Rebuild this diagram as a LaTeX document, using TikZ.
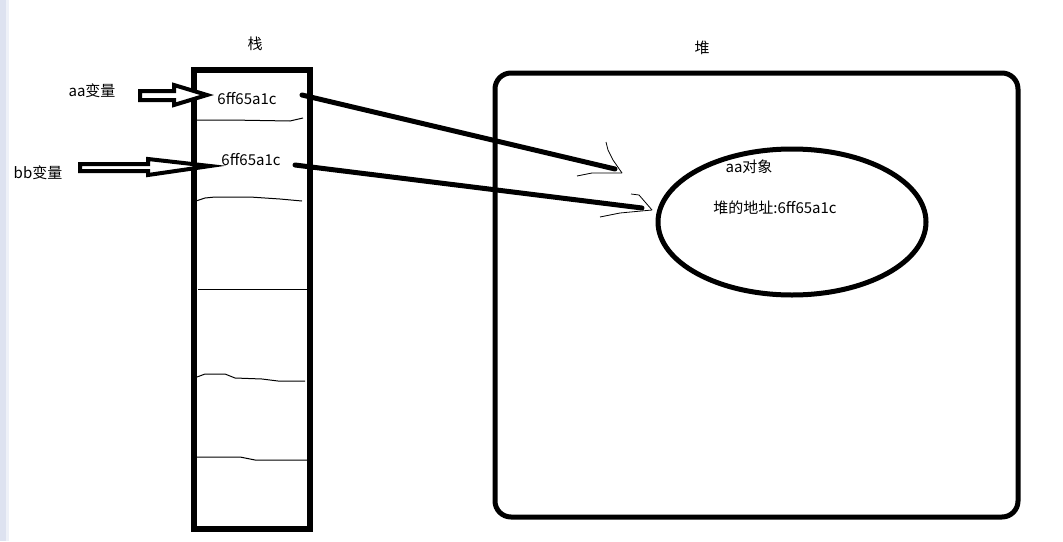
\documentclass[tikz,border=0pt]{standalone}
\usepackage{fontspec}
\usetikzlibrary{shapes.geometric}
\setmainfont{Noto Sans CJK SC}
\begin{document}
\begin{tikzpicture}[x=1pt,y=-1pt,
  lbl/.style={inner sep=0pt, font=\fontsize{15}{17}\selectfont},
  thickbox/.style={line width=5.5pt},
  ptr/.style={line width=5pt, line cap=round},
  sketch/.style={line width=0.8pt, line join=round},
  sep/.style={line width=1pt},
  blockarrow/.style={line width=4pt, fill=white, line join=miter}]
\useasboundingbox (0,0) rectangle (1063,541);
\fill[fill={rgb,255:red,221;green,226;blue,240}] (0,0) rectangle (6,541);
\fill[fill={rgb,255:red,238;green,241;blue,248}] (6,0) rectangle (9,541);

% stack
\draw[thickbox] (194,70) rectangle (310,529);
\node[lbl] (stacklbl) at (255,44) {栈};
\draw[sep] (196,120) -- (230,120) -- (290,121) -- (303,118);
\draw[sep] (196,201) -- (205,198) -- (215,197) -- (250,197) -- (280,199) -- (302,201);
\draw[sep] (198,289) -- (308,289);
\draw[sep] (197,377) -- (205,374) -- (225,374) -- (235,378) -- (262,379) -- (278,381) -- (305,381);
\draw[sep] (196,457) -- (240,457) -- (255,460) -- (308,460);

\node[lbl] (v1) at (247,99) {6ff65a1c};
\node[lbl] (v2) at (251,160) {6ff65a1c};

% labels and block arrows
\node[lbl] (aa) at (92,91) {aa变量};
\node[lbl] (bb) at (38,173) {bb变量};
\draw[blockarrow] (140,91) -- (174,91) -- (174,85) -- (207,95) -- (174,105) -- (174,100) -- (140,100) -- cycle;
\draw[blockarrow] (80,164) -- (148,164) -- (148,159) -- (210,166) -- (148,175) -- (148,171) -- (80,171) -- cycle;

% heap
\draw[thickbox, line width=5pt, rounded corners=16pt] (495,73) rectangle (1018,517);
\node[lbl] (heaplbl) at (702,48) {堆};
\node[draw, ellipse, line width=5pt, minimum width=268pt, minimum height=146pt, inner sep=0pt] (obj) at (792,222) {};
\node[lbl] (objname) at (749,167) {aa对象};
\node[lbl] (objaddr) at (775,208) {堆的地址:6ff65a1c};

% pointers
\coordinate (p1s) at (302,95);
\coordinate (p1e) at (615,169);
\coordinate (p2s) at (295,165);
\coordinate (p2e) at (642,208);
\draw[ptr] (p1s) -- (p1e);
\draw[ptr] (p2s) -- (p2e);
\coordinate (h1) at (622,173);
\coordinate (h2) at (652,210);
\draw[sketch] (606,142) -- (608,150) -- (613,160) -- (h1);
\draw[sketch] (577,176) -- (592,173) -- (h1);
\draw[sketch] (631,194) -- (639,195) -- (h2);
\draw[sketch] (600,217) -- (620,213) -- (h2);
\end{tikzpicture}
\end{document}
